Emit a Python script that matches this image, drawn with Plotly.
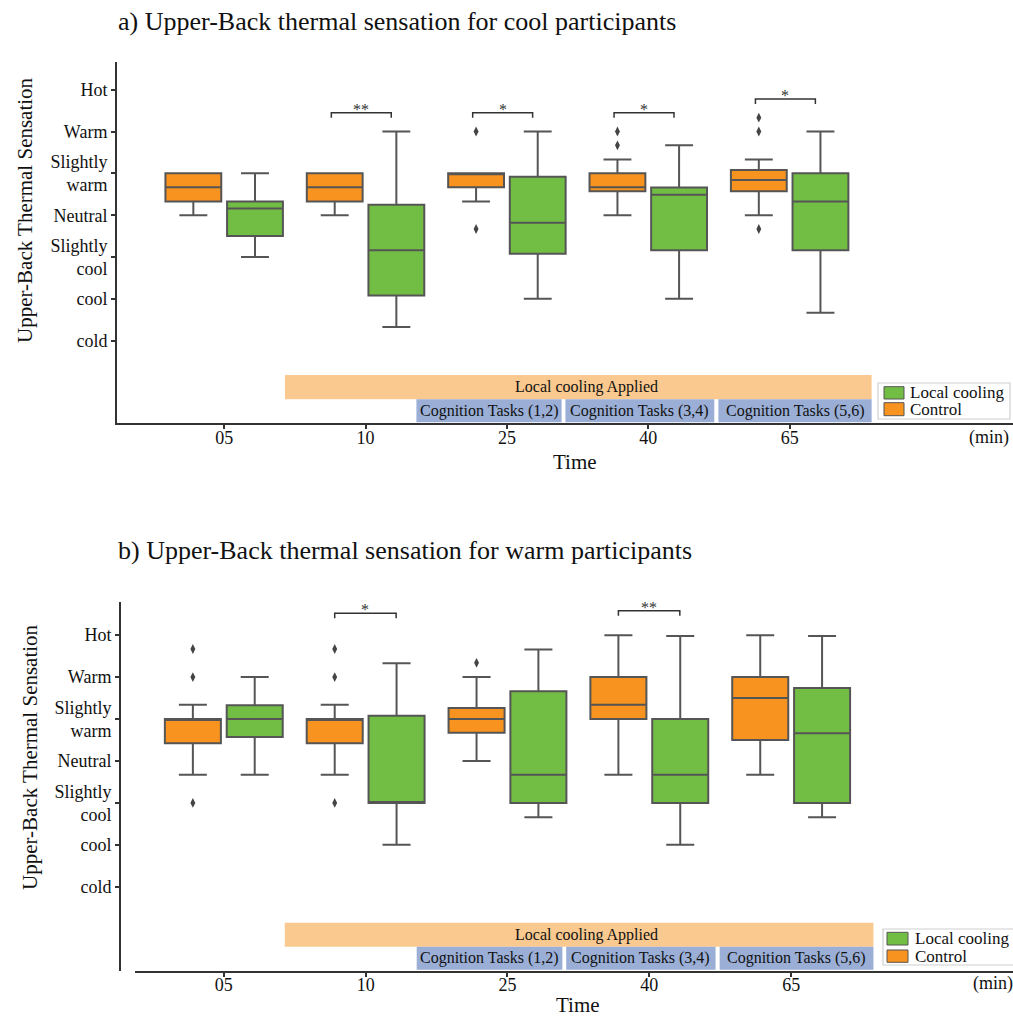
import plotly.graph_objects as go

# ---------------- data ----------------
time_labels = ["05", "10", "25", "40", "65"]
sensation_labels = ["Hot", "Warm", "Slightly<br>warm", "Neutral", "Slightly<br>cool", "cool", "cold"]
sensation_values = [3, 2, 1, 0, -1, -2, -3]
series_names = ["Local cooling", "Control"]

# a) cool participants  (box statistics per time point)
cool_control_lo = [0.0, 0.0, 0.33, 0.0, 0.0]
cool_control_q1 = [0.33, 0.33, 0.67, 0.57, 0.57]
cool_control_med = [0.67, 0.67, 1.0, 0.67, 0.84]
cool_control_q3 = [1.0, 1.0, 1.0, 1.0, 1.08]
cool_control_hi = [1.0, 1.0, 1.0, 1.33, 1.33]
cool_control_out_t = [2, 2, 3, 3, 4, 4, 4]
cool_control_out_v = [2.0, -0.33, 2.0, 1.67, 2.33, 2.0, -0.33]

cool_local_lo = [-1.0, -2.67, -2.0, -2.0, -2.33]
cool_local_q1 = [-0.5, -1.92, -0.92, -0.84, -0.84]
cool_local_med = [0.16, -0.84, -0.18, 0.49, 0.33]
cool_local_q3 = [0.33, 0.25, 0.92, 0.66, 1.0]
cool_local_hi = [1.0, 2.0, 2.0, 1.67, 2.0]

cool_sig_t = [1, 2, 3, 4]
cool_sig_label = ["**", "*", "*", "*"]
cool_sig_h = [2.45, 2.45, 2.45, 2.78]

# b) warm participants
warm_control_lo = [-0.33, -0.33, 0.0, -0.33, -0.33]
warm_control_q1 = [0.42, 0.42, 0.67, 1.0, 0.5]
warm_control_med = [1.0, 1.0, 1.0, 1.34, 1.5]
warm_control_q3 = [1.0, 1.0, 1.26, 2.0, 2.0]
warm_control_hi = [1.34, 1.34, 2.0, 3.0, 3.0]
warm_control_out_t = [0, 0, 0, 1, 1, 1, 2]
warm_control_out_v = [2.67, 2.0, -1.0, 2.67, 2.0, -1.0, 2.34]

warm_local_lo = [-0.33, -2.0, -1.34, -2.0, -1.34]
warm_local_q1 = [0.57, -1.0, -1.0, -1.0, -1.0]
warm_local_med = [1.0, -1.0, -0.33, -0.33, 0.66]
warm_local_q3 = [1.33, 1.08, 1.66, 1.0, 1.74]
warm_local_hi = [2.0, 2.33, 2.66, 2.98, 2.98]

warm_sig_t = [1, 3]
warm_sig_label = ["*", "**"]
warm_sig_h = [3.52, 3.58]

# experiment phases (time-index coordinates)
cooling_phase = ("Local cooling Applied", 0.43, 4.58)
task_phases = [("Cognition Tasks (1,2)", 1.36, 2.387),
               ("Cognition Tasks (3,4)", 2.414, 3.467),
               ("Cognition Tasks (5,6)", 3.496, 4.58)]

# ---------------- style ----------------
W, H = 1013, 1016
SERIF = "Liberation Serif, Times New Roman, serif"
ORANGE = "#F7931E"
GREEN = "#72BE44"
EDGE = "#555555"
AXC = "#333333"
TXT = "#111111"
PHASE_ORANGE = "#F9C98F"
PHASE_BLUE = "#9AAED6"
OFF = 0.218
BW = 0.395


def px_(x):
    return x / W


def py(y):
    return 1 - y / H


fig = go.Figure()
shapes = []
annotations = []

panels = [
    dict(x="x", y="y",
         ctrl=(cool_control_lo, cool_control_q1, cool_control_med, cool_control_q3, cool_control_hi),
         loc=(cool_local_lo, cool_local_q1, cool_local_med, cool_local_q3, cool_local_hi),
         out=(cool_control_out_t, cool_control_out_v),
         sig=(cool_sig_t, cool_sig_label, cool_sig_h), br=(-0.242, 0.182),
         band=(-3.82, -4.40, -4.95), lab=(-4.11, -4.68),
         time_pos=(575, 462), ytitle_pos=(25, 210),
         legend_box=(878, 383, 1010, 419), legend_sw=(884, 904, 386.7, 399, 402.7, 415.7, 908)),
    dict(x="x2", y="y2",
         ctrl=(warm_control_lo, warm_control_q1, warm_control_med, warm_control_q3, warm_control_hi),
         loc=(warm_local_lo, warm_local_q1, warm_local_med, warm_local_q3, warm_local_hi),
         out=(warm_control_out_t, warm_control_out_v),
         sig=(warm_sig_t, warm_sig_label, warm_sig_h), br=(-0.218, 0.215),
         band=(-3.855, -4.427, -4.98), lab=(-4.14, -4.70),
         time_pos=(578, 1005), ytitle_pos=(30, 757),
         legend_box=(883, 929, 1020, 965), legend_sw=(887, 908, 932.3, 945, 950, 962.3, 913)),
]

for p in panels:
    idx = list(range(len(time_labels)))
    for name, stats, color, sign in [(series_names[0], p["loc"], GREEN, 1),
                                     (series_names[1], p["ctrl"], ORANGE, -1)]:
        lo, q1, med, q3, hi = stats
        fig.add_trace(go.Box(
            x=[i + sign * OFF for i in idx], lowerfence=lo, q1=q1, median=med, q3=q3,
            upperfence=hi, width=BW, name=name, fillcolor=color,
            line=dict(color=EDGE, width=2), whiskerwidth=0.5, boxpoints=False,
            xaxis=p["x"], yaxis=p["y"], showlegend=False, hoverinfo="skip"))
    ot, ov = p["out"]
    fig.add_trace(go.Scatter(
        x=[t - OFF for t in ot], y=ov, mode="markers", showlegend=False, name="Control outliers",
        marker=dict(symbol="diamond-tall", size=7, color="#444444"),
        xaxis=p["x"], yaxis=p["y"], hoverinfo="skip"))

    xr, yr = p["x"], p["y"]
    # significance brackets
    st, sl, sh = p["sig"]
    b0, b1 = p["br"]
    for t, lab, h in zip(st, sl, sh):
        xa, xb = t + b0, t + b1
        d = 0.12
        shapes.append(dict(type="path", xref=xr, yref=yr,
                           path=f"M {xa},{h-d} L {xa},{h} L {xb},{h} L {xb},{h-d}",
                           line=dict(color=AXC, width=1.5)))
        annotations.append(dict(x=(xa + xb) / 2, y=h, xref=xr, yref=yr, text=lab,
                                showarrow=False, yanchor="bottom", yshift=-7,
                                font=dict(family=SERIF, size=16, color=AXC)))
    # phases
    y_top, y_mid, y_bot = p["band"]
    lab_c, lab_t = p["lab"]
    cname, c0, c1 = cooling_phase
    shapes.append(dict(type="rect", xref=xr, yref=yr, x0=c0, x1=c1, y0=y_mid, y1=y_top,
                       fillcolor=PHASE_ORANGE, line=dict(width=0), layer="below"))
    annotations.append(dict(x=2.56, y=lab_c, xref=xr, yref=yr, text=cname, showarrow=False,
                            font=dict(family=SERIF, size=16, color=TXT)))
    for tname, t0, t1 in task_phases:
        shapes.append(dict(type="rect", xref=xr, yref=yr, x0=t0, x1=t1, y0=y_bot, y1=y_mid,
                           fillcolor=PHASE_BLUE, line=dict(width=0), layer="below"))
        annotations.append(dict(x=(t0 + t1) / 2, y=lab_t, xref=xr, yref=yr, text=tname,
                                showarrow=False, font=dict(family=SERIF, size=16, color=TXT)))

    # axis titles
    tx, ty = p["time_pos"]
    annotations.append(dict(x=px_(tx), y=py(ty), xref="paper", yref="paper", text="Time",
                            showarrow=False, xanchor="center", yanchor="middle",
                            font=dict(family=SERIF, size=21, color=TXT)))
    vx, vy = p["ytitle_pos"]
    annotations.append(dict(x=px_(vx), y=py(vy), xref="paper", yref="paper",
                            text="Upper-Back Thermal Sensation", textangle=-90,
                            showarrow=False, xanchor="center", yanchor="middle",
                            font=dict(family=SERIF, size=21, color=TXT)))

    # legend (box with swatches)
    lx0, ly0, lx1, ly1 = p["legend_box"]
    shapes.append(dict(type="rect", xref="paper", yref="paper", x0=px_(lx0), x1=px_(lx1),
                       y0=py(ly1), y1=py(ly0), fillcolor="white",
                       line=dict(color="#cfcfcf", width=1.2)))
    sx0, sx1, gy0, gy1, oy0, oy1, tx0 = p["legend_sw"]
    for (ya, yb), col, nm in [((gy0, gy1), GREEN, series_names[0]),
                              ((oy0, oy1), ORANGE, series_names[1])]:
        shapes.append(dict(type="rect", xref="paper", yref="paper", x0=px_(sx0), x1=px_(sx1),
                           y0=py(yb), y1=py(ya), fillcolor=col, line=dict(color=EDGE, width=1)))
        annotations.append(dict(x=px_(tx0), y=py((ya + yb) / 2), xref="paper", yref="paper",
                                text=nm, showarrow=False, xanchor="left", yanchor="middle",
                                font=dict(family=SERIF, size=17, color=TXT)))

# titles and unit labels
annotations += [
    dict(x=px_(116), y=py(22), xref="paper", yref="paper", xanchor="left", yanchor="middle",
         text="a) Upper-Back thermal sensation for cool participants", showarrow=False,
         font=dict(family=SERIF, size=26, color=TXT)),
    dict(x=px_(116), y=py(550), xref="paper", yref="paper", xanchor="left", yanchor="middle",
         text="b) Upper-Back thermal sensation for warm participants", showarrow=False,
         font=dict(family=SERIF, size=26, color=TXT)),
    dict(x=px_(1011), y=py(437), xref="paper", yref="paper", xanchor="right", yanchor="middle",
         text="(min)", showarrow=False, font=dict(family=SERIF, size=18, color=TXT)),
    dict(x=px_(1015), y=py(983), xref="paper", yref="paper", xanchor="right", yanchor="middle",
         text="(min)", showarrow=False, font=dict(family=SERIF, size=18, color=TXT)),
]

common_x = dict(tickvals=list(range(len(time_labels))), ticktext=time_labels,
                showline=True, linecolor=AXC, linewidth=2, ticks="outside", ticklen=4,
                tickcolor=AXC, tickwidth=1.5, showgrid=False, zeroline=False,
                ticklabelstandoff=-7,
                tickfont=dict(family=SERIF, size=18, color=TXT), automargin=False)
common_y = dict(tickvals=sensation_values, ticktext=sensation_labels,
                showline=True, linecolor=AXC, linewidth=2, ticks="outside", ticklen=4,
                tickcolor=AXC, tickwidth=1.5, showgrid=False, zeroline=False,
                tickfont=dict(family=SERIF, size=18, color=TXT),
                automargin=False)

fig.update_layout(
    width=W, height=H, autosize=False, margin=dict(l=0, r=0, t=0, b=0),
    paper_bgcolor="white", plot_bgcolor="white", boxmode="overlay", showlegend=False,
    font=dict(family=SERIF, color=TXT),
    xaxis=dict(common_x, domain=[px_(117), 1], range=[-0.758, 5.58], anchor="y"),
    yaxis=dict(common_y, domain=[py(423.3), py(62)], range=[-4.975, 3.662], anchor="x"),
    xaxis2=dict(common_x, domain=[px_(135), 1], range=[-0.626, 5.564], anchor="y2"),
    yaxis2=dict(common_y, domain=[py(970.7), py(602)], range=[-5.0, 3.79],
                anchor="free", position=px_(120)),
    shapes=shapes, annotations=annotations,
)

fig.write_html("out.html", config={"responsive": False})
